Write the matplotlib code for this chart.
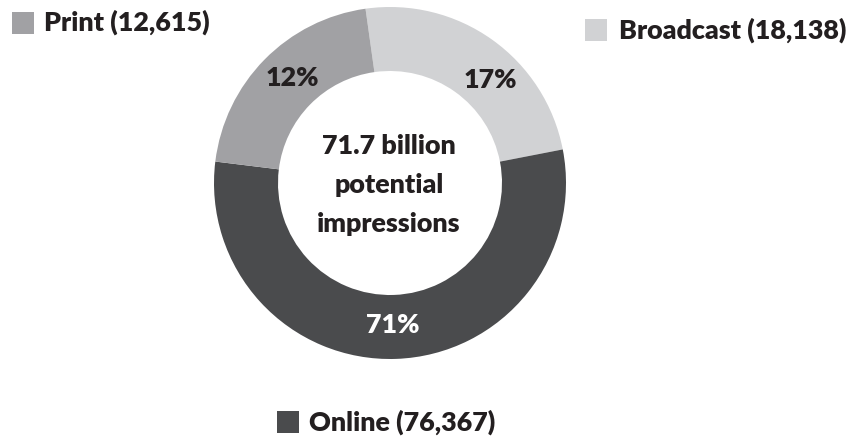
import matplotlib
matplotlib.use("Agg")
import matplotlib.pyplot as plt
from matplotlib.patches import Rectangle

# Data
categories = ["Broadcast", "Online", "Print"]
counts = ["18,138", "76,367", "12,615"]
pct_labels = ["17%", "71%", "12%"]
# drawn arc shares (degrees) as they appear in the picture
arc_degrees = [87, 198, 75]
colors = ["#d1d2d4", "#4a4b4d", "#a1a1a4"]
pct_colors = ["#231f20", "#ffffff", "#231f20"]
center_lines = ["71.7 billion", "potential", "impressions"]

W, H = 851, 440
fig = plt.figure(figsize=(W / 100, H / 100), dpi=100)
ax = fig.add_axes([0, 0, 1, 1])
FONT = ["Lato", "DejaVu Sans"]
TXT = "#231f20"
WT = "heavy"
FS = 19.4

cx, cy = 390, H - 183
R = 176
ring = 64
ax.pie(arc_degrees, colors=colors, startangle=98, counterclock=False,
       radius=R, center=(cx, cy), frame=True,
       wedgeprops=dict(width=ring, linewidth=0))
ax.set_xlim(0, W)
ax.set_ylim(0, H)
ax.set_aspect("equal")
ax.axis("off")

# percentage labels
pct_pos = [(490, 80), (393, 325), (292, 78)]
for lab, (x, y), c in zip(pct_labels, pct_pos, pct_colors):
    ax.text(x, H - y, lab, ha="center", va="center", fontsize=FS,
            fontweight=WT, color=c, family=FONT)

for line, y in zip(center_lines, [146, 185, 224]):
    ax.text(389, H - y, line, ha="center", va="center", fontsize=FS,
            fontweight=WT, color=TXT, family=FONT)

# legend items
leg = {"Print": (11.5, 11.5, 44, 22), "Broadcast": (585, 19, 619, 30),
       "Online": (277, 411.5, 309, 422)}
for cat, cnt, col in zip(categories, counts, colors):
    sx, sy, tx, ty = leg[cat]
    ax.add_patch(Rectangle((sx, H - sy - 22), 22, 22, facecolor=col,
                           edgecolor="none"))
    ax.text(tx, H - ty, f"{cat} ({cnt})", ha="left", va="center",
            fontsize=FS, fontweight=WT, color=TXT, family=FONT)

fig.savefig("out.png", dpi=100)
